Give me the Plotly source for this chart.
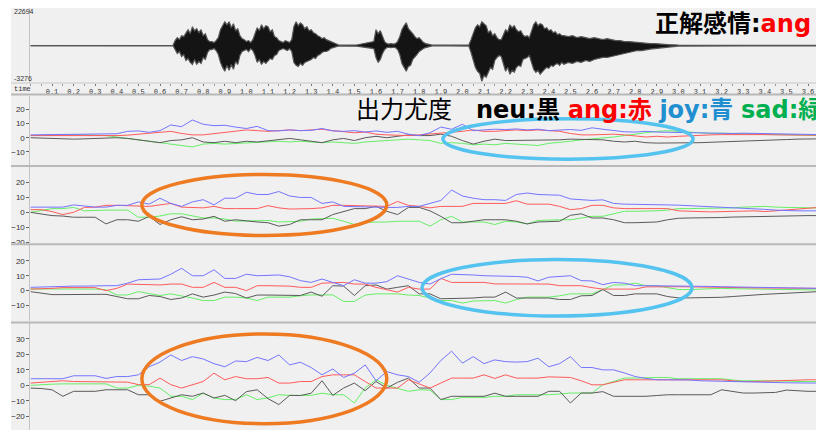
import plotly.graph_objects as go

W, H = 816, 434

# ---------------- data ----------------
T = [round(0.05 * i, 2) for i in range(74)]  # seconds
TIME_TICKS = ["0.1","0.2","0.3","0.4","0.5","0.6","0.7","0.8","0.9","1.0","1.1","1.2",
              "1.3","1.4","1.5","1.6","1.7","1.8","1.9","2.0","2.1","2.2","2.3","2.4",
              "2.5","2.6","2.7","2.8","2.9","3.0","3.1","3.2","3.3","3.4","3.5","3.6"]

# panel 1
P1_JOY = [2.0,2.0,2.2,2.5,2.5,2.5,2.6,2.5,2.8,4.5, 4.8,3.8,5.0,9.0,7.8,12.5,9.5,8.5,8.8,7.5,
          6.5,8.0,5.0,4.8,5.5,5.0,5.2,6.5,4.8,4.5, 5.0,4.0,4.8,3.8,4.5,2.5,1.5,3.5,7.5,6.0,
          9.5,5.0,5.5,6.0,5.8,6.2,5.5,6.0,5.0,5.5, 5.8,5.2,7.0,6.0,5.0,4.2,4.0,4.5,4.0,3.8,
          4.0,3.8,3.5,3.2,3.0,3.0,3.2,3.0,2.8,2.6, 2.5,2.5,2.3,2.2]
P1_ANG = [1.5,1.5,1.5,1.3,1.2,1.0,1.2,1.5,1.5,1.8, 2.5,3.0,3.5,4.5,3.0,2.0,2.0,3.0,4.0,5.0,
          5.5,5.0,4.5,5.0,5.5,5.0,5.5,6.0,5.0,4.0, 3.5,4.0,2.5,2.0,1.5,1.5,2.0,2.5,3.0,3.5,
          4.5,5.5,4.5,4.5,5.0,5.5,5.0,5.5,5.0,4.5, 3.0,2.0,2.0,2.5,2.5,2.0,1.5,0.5,1.0,0.5,
          1.0,1.5,2.0,2.0,2.2,2.3,2.2,2.3,2.2,2.0, 2.0,1.8,1.8,1.8]
P1_NEU = [0.0,-0.3,-0.5,-1.0,-1.0,-0.8,-0.5,-0.3,0.0,-0.5, -1.5,-2.5,-3.5,-2.0,-1.5,0.0,-3.0,-3.5,-2.5,-3.5,
          -2.5,-3.0,-2.0,-1.5,-0.5,-1.5,-2.5,-3.5,-1.5,-0.5, -2.0,0.0,1.0,0.0,1.0,2.0,1.5,1.5,2.5,1.0,
          -2.0,-4.5,-2.5,-1.0,-2.0,-2.0,-1.5,-2.0,-2.0,-1.5, -1.0,-1.0,-1.0,-1.5,-2.5,-3.0,-2.5,-3.5,-3.8,-3.8,
          -4.0,-3.8,-3.5,-3.2,-3.0,-2.8,-2.5,-2.0,-1.8,-1.5, -1.3,-1.0,-0.9,-0.8]
P1_SAD = [1.5,1.8,2.0,2.2,2.2,2.0,1.8,1.5,0.5,-0.5, -1.0,-2.0,-3.5,-4.5,-5.0,-6.5,-4.5,-4.0,-4.5,-4.0,
          -4.0,-3.5,-3.0,-2.5,-3.0,-2.5,-3.0,-3.5,-3.0,-3.5, -4.0,-3.0,-2.5,-1.5,-1.5,-1.0,-1.5,-2.0,-4.0,-3.5,
          -4.0,-5.0,-4.5,-5.0,-4.0,-4.5,-5.0,-5.5,-4.0,-3.5, -2.5,-1.5,-1.0,-0.5,0.5,1.5,2.5,4.0,4.5,5.0,
          4.5,4.0,3.5,3.0,3.2,3.0,2.8,2.8,2.5,2.2, 2.0,1.8,1.5,1.5]

# panel 2
P2_JOY = [3.5,3.5,3.5,3.5,5.0,4.0,3.5,3.5,4.7,4.7, 7.0,5.5,9.5,6.0,4.0,7.0,8.5,5.0,9.5,9.5,
          13.5,12.0,12.0,14.0,11.0,10.0,10.0,6.0,7.0,4.0, 4.0,4.0,3.5,3.3,3.3,4.0,4.0,6.0,8.0,15.0,
          11.0,9.5,8.5,8.5,8.0,12.0,13.0,12.0,12.0,11.5, 9.0,8.5,8.0,8.4,6.0,5.5,5.5,5.0,5.5,5.0,
          4.8,4.5,4.0,4.0,3.5,3.0,3.0,2.5,2.0,1.5, 1.0,1.0,1.0,1.0]
P2_ANG = [1.8,1.8,0.5,-1.5,0.0,3.3,3.5,4.7,4.7,4.5, 4.7,4.0,5.0,6.0,3.5,3.0,3.0,4.0,2.5,2.5,
          2.5,2.5,4.5,3.0,2.2,2.2,2.5,3.0,4.7,4.7, 4.5,4.0,4.0,4.0,7.3,4.7,4.0,3.0,4.0,4.0,
          4.0,6.0,6.0,6.0,6.0,7.8,5.5,5.5,5.5,4.0, 1.8,2.5,4.7,4.7,3.0,2.5,2.5,2.5,2.5,2.5,
          1.0,0.5,0.5,0.3,0.3,0.5,0.8,1.0,0.5,1.0, 1.5,2.0,2.8,3.3]
P2_NEU = [0.0,-1.0,-2.2,-2.5,-3.3,-3.3,-3.3,-7.8,-5.0,-5.0, -6.0,-2.7,-8.2,-5.0,-3.0,-5.0,-4.5,-2.7,-6.0,-5.0,
          -6.0,-6.5,-7.0,-9.3,-8.2,-5.0,-5.0,-5.0,-1.5,0.5, 2.5,2.5,4.0,0.7,-1.5,3.3,3.3,1.0,-2.7,-7.0,
          -7.0,-6.0,-5.0,-5.0,-5.0,-6.0,-7.8,-6.5,-6.0,-6.0, -2.0,-1.0,-3.8,-3.8,-5.0,-7.0,-7.0,-7.0,-6.5,-5.0,
          -4.0,-3.8,-3.8,-3.5,-3.5,-3.2,-3.0,-3.0,-2.8,-2.5, -2.5,-2.3,-2.2,-2.2]
P2_SAD = [0.0,1.5,2.5,2.5,3.3,1.0,1.5,1.5,1.5,1.5, -3.3,-3.3,-2.5,-1.0,-1.0,-2.5,-3.8,-3.8,-4.5,-6.0,
          -6.0,-6.0,-5.5,-6.5,-6.0,-6.0,-4.5,-4.2,-4.0,-6.0, -8.2,-6.7,-6.7,-6.5,-6.0,-6.0,-6.0,-9.3,-5.0,-2.7,
          -6.5,-6.5,-6.5,-8.2,-6.0,-6.5,-7.8,-5.5,-5.0,-5.0, -5.0,-4.0,-2.7,-2.7,-1.0,0.7,0.7,0.7,1.0,1.5,
          2.5,2.5,2.5,2.5,2.8,3.0,3.5,4.0,4.0,3.5, 3.2,3.0,3.0,3.0]

# panel 3
P3_JOY = [2.2,2.5,2.8,3.0,3.0,3.0,3.3,3.3,3.3,5.0, 7.3,7.3,7.8,11.0,15.0,10.0,10.0,14.0,8.2,8.2,
          11.0,10.0,10.0,10.5,9.3,6.7,5.5,7.8,5.5,3.3, 7.3,5.0,5.0,6.0,10.0,7.8,5.5,4.4,8.0,11.0,
          11.0,10.5,10.0,10.0,10.0,9.5,9.0,6.5,9.0,9.5, 10.0,6.7,6.5,4.0,5.5,5.0,3.3,3.3,3.3,3.3,
          3.2,3.0,3.0,2.8,2.6,2.5,2.3,2.2,2.0,1.8, 1.7,1.6,1.5,1.5]
P3_ANG = [1.0,1.0,1.5,2.0,2.0,2.0,2.0,0.0,1.5,4.4, 4.4,4.0,3.8,4.4,4.4,2.2,2.2,5.5,2.2,2.2,
          0.0,3.3,3.3,3.3,3.0,2.2,2.2,5.0,5.0,5.5, 4.4,4.4,2.2,0.5,-1.0,2.2,1.0,1.0,8.2,5.5,
          5.5,5.5,5.5,4.5,4.4,4.4,4.4,4.4,4.4,3.3, 3.3,3.3,2.0,1.0,1.0,1.0,1.0,2.5,2.7,2.7,
          2.6,2.5,2.5,2.3,2.2,2.0,2.0,1.8,1.8,1.7, 1.6,1.5,1.5,1.5]
P3_NEU = [-0.7,-1.5,-2.7,-2.7,-2.7,-2.7,-2.7,-2.5,-4.0,-5.5, -5.5,-3.3,-4.0,-6.0,-5.0,-2.2,-4.4,-3.0,-1.0,-2.0,
          -5.0,-3.0,-3.0,-3.0,-3.3,-3.3,-1.0,-3.8,3.3,3.0, -3.3,3.3,3.8,1.0,2.2,3.3,-2.2,-2.2,-5.5,-5.5,
          -5.5,-5.0,-4.4,-4.4,-1.0,-5.0,-5.0,-5.0,-5.0,-6.0, -6.0,-3.5,-3.3,0.7,-3.3,-3.3,-2.2,-2.2,-2.2,-4.0,
          -4.9,-4.9,-4.9,-4.9,-4.5,-4.0,-3.3,-3.0,-2.5,-2.2, -1.8,-1.5,-1.0,-0.7]
P3_SAD = [1.1,1.1,1.1,1.1,1.1,1.1,1.0,0.5,-2.9,-2.9, -0.7,-2.0,-3.3,-2.2,-3.5,-5.0,-6.7,-6.7,-4.4,-4.4,
          -5.0,-6.7,-4.4,-4.4,-4.4,-3.5,-2.9,-2.9,-2.9,-7.3, -7.3,-3.0,-2.2,-2.2,-2.2,-3.0,-3.3,-5.0,-6.7,-6.7,
          -8.4,-7.0,-6.7,-6.7,-8.4,-6.0,-4.4,-4.4,-4.4,-3.5, -2.2,-2.2,-2.2,0.7,3.8,3.8,5.0,3.3,3.3,2.0,
          0.7,0.7,1.0,1.5,1.5,1.3,1.2,1.0,0.8,0.7, 0.6,0.5,0.4,0.4]

# panel 4
P4_JOY = [4.3,4.3,4.3,4.3,6.2,6.2,6.2,4.5,5.7,5.7, 6.8,12.0,15.0,19.6,16.0,18.5,17.0,14.0,12.0,15.7,
          15.3,18.0,16.0,19.6,13.2,14.9,11.5,6.8,10.6,5.1, 7.9,13.2,3.0,8.9,6.8,5.7,2.0,8.0,16.0,22.0,
          14.3,18.5,14.0,16.4,15.3,15.0,15.3,17.5,12.0,14.0, 18.5,11.5,11.5,10.0,10.0,8.0,5.7,4.5,3.6,3.6,
          3.6,3.5,3.0,2.8,2.5,2.5,2.3,2.2,2.0,1.8, 1.7,1.6,1.5,1.5]
P4_ANG = [1.5,2.0,2.5,3.0,2.5,2.5,2.5,2.5,2.1,2.1, 0.5,0.5,4.7,0.5,-1.7,0.5,2.5,7.9,3.6,5.7,
          4.3,4.3,5.1,1.5,1.5,2.5,2.5,5.7,6.8,6.8, 6.8,2.5,-1.7,-1.7,-1.7,3.6,1.0,-1.7,1.5,4.7,
          4.7,4.7,6.8,4.5,6.8,4.7,4.7,4.7,5.5,5.1, 5.1,3.0,0.4,0.4,2.0,3.6,3.6,3.6,3.6,3.6,
          3.6,3.6,3.6,3.6,3.6,3.0,2.5,2.5,2.8,3.0, 3.3,3.6,3.6,3.6]
P4_NEU = [-1.7,-2.0,-2.8,-7.0,-3.8,-3.8,-3.8,-2.8,-2.8,-2.8, -6.0,-6.0,-10.2,-8.1,-6.0,-7.0,-4.9,-8.1,-6.4,-9.8,
          -4.0,-2.8,-8.5,-12.3,-6.4,-6.5,-5.0,3.0,-6.4,-1.7, 1.5,-3.4,2.5,-1.7,2.0,4.7,-1.7,-1.7,-9.1,-7.0,
          -7.0,-7.0,-7.0,-5.0,-7.0,-7.0,-7.0,-7.0,-3.8,-3.8, -11.3,-4.9,-4.9,-4.0,-7.0,-7.0,-7.0,-7.0,-6.5,-6.0,
          -6.0,-6.0,-6.0,-6.0,-2.8,-4.0,-4.9,-4.9,-4.9,-4.5, -3.0,-3.5,-3.8,-3.8]
P4_SAD = [0.0,0.5,0.8,1.0,1.0,1.0,1.0,1.0,-1.7,-1.7, 0.0,-0.5,-1.7,-7.0,-7.0,-9.1,-5.0,-8.1,-9.1,-9.1,
          -6.0,-9.1,-8.0,-6.0,-6.4,-6.4,-6.4,-5.0,-6.0,-6.0, -11.3,-1.7,3.6,0.0,-2.0,-3.8,-2.8,-3.0,-9.1,-9.1,
          -7.7,-7.7,-7.7,-7.0,-7.0,-6.0,-6.0,-6.0,-6.0,-5.5, -4.9,-4.9,-4.9,0.4,2.5,4.7,4.7,5.1,5.1,5.1,
          4.3,4.3,4.3,4.3,4.3,3.5,3.0,3.0,3.0,2.8, 2.8,2.5,2.5,2.5]

PANELS = [
    {"neu": P1_NEU, "ang": P1_ANG, "joy": P1_JOY, "sad": P1_SAD},
    {"neu": P2_NEU, "ang": P2_ANG, "joy": P2_JOY, "sad": P2_SAD},
    {"neu": P3_NEU, "ang": P3_ANG, "joy": P3_JOY, "sad": P3_SAD},
    {"neu": P4_NEU, "ang": P4_ANG, "joy": P4_JOY, "sad": P4_SAD},
]

# waveform envelope, read per segment: (start time, time step, upper peaks, lower peaks)
WAVE_SEGMENTS = [
    (0.00, 0.33, [0, 0.3, 0.3], [0, -0.3, -0.3]),
    (0.66, 0.01, [0, 5, 8, 6, 10, 9, 13, 16, 12, 19, 15, 17, 13, 16, 10, 12, 6, 4],
                 [0, -4, -8, -6, -11, -9, -15, -13, -17, -19, -14, -19, -16, -18, -12, -14, -7, -4]),
    (0.84, 0.01, [4, 3, 5, 8], [-4, -3, -5, -9]),
    (0.88, 0.01, [16, 20, 24, 21, 24, 18, 22, 15, 17, 10, 7],
                 [-17, -22, -26, -20, -25, -19, -24, -16, -19, -10, -6]),
    (0.99, 0.01, [6, 4, 5, 3, 6], [-5, -4, -6, -3, -5]),
    (1.04, 0.01, [12, 18, 15, 21, 17, 20, 19, 14, 16, 9, 8, 5],
                 [-10, -17, -14, -19, -16, -18, -15, -13, -14, -10, -9, -5]),
    (1.16, 0.01, [4, 3, 5, 4, 3, 6], [-4, -3, -4, -5, -3, -6]),
    (1.22, 0.01, [19, 24, 20, 23, 21, 17, 19, 15, 16, 13, 12, 10, 9, 7, 8, 6, 5, 4, 3, 2, 1],
                 [-17, -20, -21, -18, -20, -17, -16, -15, -14, -12, -13, -10, -9, -7, -6, -6, -5, -3, -2, -1.5, -0.8]),
    (1.43, 0.08, [0.4, 0.6], [-0.4, -0.6]),
    (1.59, 0.01, [4, 16, 12, 15, 9, 4, 2], [-3, -12, -17, -14, -8, -4, -2]),
    (1.66, 0.01, [1.5, 2, 1.5, 2, 4], [-1.5, -2, -1.5, -2, -4]),
    (1.71, 0.01, [9, 16, 20, 23, 17, 15, 12, 9, 7, 8, 5, 3, 2, 1.5, 1],
                 [-9, -18, -22, -26, -21, -20, -14, -12, -9, -6, -4, -3, -2, -1.5, -1]),
    (1.86, 0.085, [0.4, 0.4, 0.5], [-0.4, -0.4, -0.5]),
    (2.04, 0.01, [6, 12, 18, 21, 19, 24, 22, 20, 13, 15, 10, 12, 8, 6],
                 [-7, -14, -22, -26, -28, -36, -30, -32, -26, -22, -24, -15, -12, -10]),
    (2.18, 0.01, [6, 12, 16, 14, 21, 18, 20, 16, 14, 15, 11, 9, 10, 8],
                 [-11, -18, -26, -22, -29, -25, -27, -22, -20, -21, -14, -13, -12, -10]),
    (2.32, 0.01, [14, 21, 24, 20, 22, 21, 17, 18, 15, 16, 13, 14, 11, 12, 10],
                 [-16, -24, -27, -25, -29, -26, -24, -22, -23, -20, -21, -19, -18, -20, -17]),
    (2.47, 0.02, [10, 9, 10, 8, 9, 8, 7, 8, 7, 6, 7, 6, 5, 5, 4, 4, 3.5, 3, 3, 2.5, 2, 2, 1.5, 1.2, 1, 0.8],
                 [-19, -17, -18, -16, -17, -15, -16, -14, -13, -12, -12, -11, -10, -9, -8, -7, -6, -5, -5, -4,
                  -3.5, -3, -2.5, -2, -1.5, -1]),
    (3.00, 0.32, [0.5, 0.3, 0.3], [-0.5, -0.3, -0.3]),
]
WAVE_T, WAVE_TOP, WAVE_BOT = [], [], []
for start, step, tops, bots in WAVE_SEGMENTS:
    for i, (a, b) in enumerate(zip(tops, bots)):
        WAVE_T.append(round(start + i * step, 3))
        WAVE_TOP.append(a)
        WAVE_BOT.append(b)

# highlight ellipses: (panel index, t0, t1, v_low, v_high, colour)
ELLIPSES = [
    (0, 1.910, 3.068, -15.2, 13.3, "#55c3ef"),
    (1, 0.516, 1.650, -15.6, 25.5, "#ee7a22"),
    (2, 1.813, 3.063, -17.1, 20.9, "#55c3ef"),
    (3, 0.516, 1.650, -24.6, 33.1, "#ee7a22"),
]

COLORS = {"neu": "#5a5a5a", "sad": "#66ee66", "ang": "#ff5a5a", "joy": "#7474ff"}
ORDER = ["sad", "neu", "ang", "joy"]

# ---------------- geometry (pixels) ----------------
X0 = 30.4          # pixel of t = 0
PX_PER_S = 216.0
def fx(p): return p / W
def fy(p): return 1 - p / H

# (top px, bottom px, zero px, px per unit, ticks)
GEOM = [
    (96.5, 166.5, 139.0, 1.43, [20, 10, 0, -10]),
    (168.5, 245.5, 214.3, 1.50, [20, 10, 0, -10, -20]),
    (247.5, 324.0, 293.3, 1.50, [20, 10, 0, -10]),
    (326.5, 434.0, 389.0, 1.57, [30, 20, 10, 0, -10, -20]),
]
WAVE_TOP_PX, WAVE_BOT_PX = 8.5, 83.5

fig = go.Figure()
x_range = [0, (W - X0) / PX_PER_S]
x_domain = [fx(X0), 1]
tickfont = dict(family="Liberation Sans", size=8, color="#333333")

# waveform
fig.add_trace(go.Scatter(x=WAVE_T, y=WAVE_TOP, mode="lines", line=dict(color="#555555", width=1.2),
                         xaxis="x", yaxis="y", showlegend=False, hoverinfo="skip"))
fig.add_trace(go.Scatter(x=WAVE_T, y=WAVE_BOT, mode="lines", line=dict(color="#555555", width=1.2),
                         fill="tonexty", fillcolor="#141414",
                         xaxis="x", yaxis="y", showlegend=False, hoverinfo="skip"))

layout = dict(
    width=W, height=H, margin=dict(l=0, r=0, t=0, b=0),
    paper_bgcolor="white", plot_bgcolor="rgba(0,0,0,0)", showlegend=False,
    xaxis=dict(domain=x_domain, range=x_range, anchor="y", showgrid=False, zeroline=False,
               tickmode="array", tickvals=[float(s) for s in TIME_TICKS], ticktext=TIME_TICKS,
               ticks="outside", ticklen=2, tickcolor="#777777",
               minor=dict(ticks="outside", ticklen=2, dtick=0.05, tick0=0.05, tickcolor="#999999"),
               tickfont=dict(family="Liberation Mono", size=7, color="#333333")),
    yaxis=dict(domain=[fy(WAVE_BOT_PX), fy(WAVE_TOP_PX)], range=[-37.5, 37.5], anchor="x",
               showgrid=False, zeroline=False, showticklabels=False, showline=True,
               linecolor="#c4c4c4", linewidth=1),
)

for k, (panel, geom) in enumerate(zip(PANELS, GEOM)):
    top, bot, zero, ppu, ticks = geom
    n = k + 2
    xa, ya = f"x{n}", f"y{n}"
    for key in ORDER:
        fig.add_trace(go.Scatter(x=T, y=panel[key], mode="lines",
                                 line=dict(color=COLORS[key], width=1),
                                 xaxis=xa, yaxis=ya, showlegend=False, hoverinfo="skip"))
    layout[f"xaxis{n}"] = dict(domain=x_domain, range=x_range, anchor=ya, matches="x",
                               showticklabels=False, showgrid=False, zeroline=False, ticks="")
    layout[f"yaxis{n}"] = dict(domain=[fy(bot), fy(top)],
                               range=[(zero - bot) / ppu, (zero - top) / ppu],
                               anchor=xa, showgrid=False, zeroline=False,
                               tickvals=ticks, ticks="outside", ticklen=3, tickcolor="#666666",
                               tickfont=tickfont, showline=True, linecolor="#c4c4c4", linewidth=1)

shapes = [
    dict(type="rect", xref="paper", yref="paper", x0=fx(11), x1=1, y0=0, y1=fy(8),
         fillcolor="#f0f0f0", line=dict(width=0), layer="below"),
    dict(type="line", xref="paper", yref="paper", x0=fx(11), x1=1, y0=fy(83.8), y1=fy(83.8),
         line=dict(color="#c8c8c8", width=1)),
]
for ysep in (95.5, 167.5, 246.5, 325.5):
    shapes.append(dict(type="line", xref="paper", yref="paper", x0=fx(11), x1=1,
                       y0=fy(ysep), y1=fy(ysep), line=dict(color="#b8b8b8", width=2)))
for (k, t0, t1, v0, v1, col) in ELLIPSES:
    n = k + 2
    shapes.append(dict(type="circle", xref=f"x{n}", yref=f"y{n}", x0=t0, x1=t1, y0=v0, y1=v1,
                       line=dict(color=col, width=3.5)))
layout["shapes"] = shapes

small = dict(family="Liberation Sans", size=7, color="#333333")
big = dict(family="DejaVu Sans, Noto Sans CJK JP", size=24, color="#000000")
annotations = [
    dict(x=fx(12), y=fy(12), xref="paper", yref="paper", text="22694", showarrow=False,
         xanchor="left", yanchor="middle", font=small),
    dict(x=fx(12), y=fy(79), xref="paper", yref="paper", text="-3276", showarrow=False,
         xanchor="left", yanchor="middle", font=small),
    dict(x=fx(12), y=fy(90), xref="paper", yref="paper", text="time", showarrow=False,
         xanchor="left", yanchor="middle",
         font=dict(family="Liberation Mono", size=7, color="#333333")),
    dict(x=fx(812), y=fy(9), xref="paper", yref="paper", showarrow=False,
         xanchor="right", yanchor="top", borderpad=0,
         text='<b>正解感情:</b><b><span style="color:#ff0000">ang</span></b>', font=big),
    dict(x=fx(355), y=fy(95.5), xref="paper", yref="paper", showarrow=False,
         xanchor="left", yanchor="top", borderpad=0,
         text=('出力尤度　<b>neu:黒</b> <b><span style="color:#ff0000">ang:赤</span></b> '
               '<b><span style="color:#1f8fd0">joy:青</span></b> '
               '<b><span style="color:#00b050">sad:緑</span></b>'),
         font=big),
]
layout["annotations"] = annotations

fig.update_layout(**layout)
fig.write_html("out.html")
